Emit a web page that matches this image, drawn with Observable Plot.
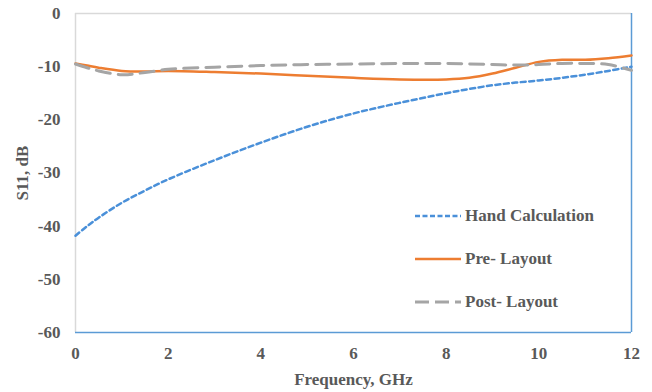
<!DOCTYPE html>
<html><head><meta charset="utf-8">
<script src="https://cdn.jsdelivr.net/npm/d3@7"></script>
<script src="https://cdn.jsdelivr.net/npm/@observablehq/plot@0.6"></script>
<style>
body{margin:0;background:#fff;}
#wrap{position:relative;width:652px;height:392px;font-family:"Liberation Serif","DejaVu Serif",serif;}
#legend{position:absolute;left:415px;top:194px;font-family:"Liberation Serif",serif;font-weight:bold;font-size:17px;color:#595959;}
#legend .row{display:flex;align-items:center;height:43px;}
#legend svg{margin-right:4px;}
</style></head><body>
<div id="wrap"><div id="chart"></div><div id="legend"></div></div>
<script>
const freq = [0,0.25,0.5,1,1.5,2,3,4,5,6,7,8,8.5,9,9.5,10,10.5,11,11.5,12];
const hand = [-41.8,-40.0,-38.4,-35.6,-33.3,-31.2,-27.6,-24.3,-21.3,-18.8,-16.8,-15.0,-14.2,-13.5,-13.0,-12.6,-12.1,-11.5,-10.8,-10.0];
const pre  = [-9.4,-9.8,-10.2,-10.8,-10.9,-10.8,-11,-11.3,-11.7,-12.1,-12.4,-12.4,-12.1,-11.3,-10.2,-9.1,-8.7,-8.7,-8.4,-7.9];
const post = [-9.5,-10.2,-10.8,-11.5,-11.1,-10.5,-10.1,-9.8,-9.6,-9.5,-9.4,-9.4,-9.5,-9.6,-9.7,-9.6,-9.4,-9.4,-9.6,-10.7];
const seriesNames = ["Hand Calculation","Pre- Layout","Post- Layout"];
const xTicks = [0,2,4,6,8,10,12];
const yTicks = [0,-10,-20,-30,-40,-50,-60];

const colors = ["#4a90d9","#ed7d31","#a5a5a5"];
const dashes = ["5,3.5",null,"14,8"];
const widths = [2.5,2.5,3];
const values = [hand, pre, post];

const rows = [];
seriesNames.forEach((s,i)=>freq.forEach((f,j)=>rows.push({series:s,f,v:values[i][j]})));

const chart = Plot.plot({
  width:652, height:392,
  marginLeft:75, marginRight:21, marginTop:13, marginBottom:60,
  style:{fontFamily:"'Liberation Serif', serif", fontWeight:"bold", fontSize:"17px", color:"#595959", background:"#fff"},
  x:{domain:[0,12]},
  y:{domain:[-60,0]},
  marks:[
    Plot.ruleY([0],{stroke:"#d9d9d9",strokeWidth:1.5}),
    Plot.ruleX([0],{stroke:"#d9d9d9",strokeWidth:1.5}),
    Plot.ruleX([12],{stroke:"#5b9bd5",strokeWidth:1.5}),
    Plot.ruleY([-60],{stroke:"#5b9bd5",strokeWidth:1.5}),
    ...seriesNames.map((s,i)=>Plot.line(rows.filter(d=>d.series===s),{x:"f",y:"v",stroke:colors[i],strokeWidth:widths[i],strokeDasharray:dashes[i],curve:"catmull-rom"})),
    Plot.axisX({ticks:xTicks,tickSize:0,tickPadding:14,tickFormat:d=>String(d),label:"Frequency, GHz",labelArrow:"none",labelAnchor:"center",labelOffset:52,fontSize:17}),
    Plot.axisY({ticks:yTicks,tickSize:0,tickPadding:15,tickFormat:d=>String(d),label:"S11, dB",labelArrow:"none",labelAnchor:"center",labelOffset:60,fontSize:17})
  ]
});
document.getElementById("chart").appendChild(chart);

const leg = document.getElementById("legend");
seriesNames.forEach((s,i)=>{
  const r=document.createElement("div");r.className="row";
  r.innerHTML=`<svg width="46" height="6"><line x1="0" x2="46" y1="3" y2="3" stroke="${colors[i]}" stroke-width="${widths[i]}" ${dashes[i]?`stroke-dasharray="${i===2?"14,6":"5,2.5"}"`:""}/></svg><span>${s}</span>`;
  leg.appendChild(r);
});
</script></body></html>
